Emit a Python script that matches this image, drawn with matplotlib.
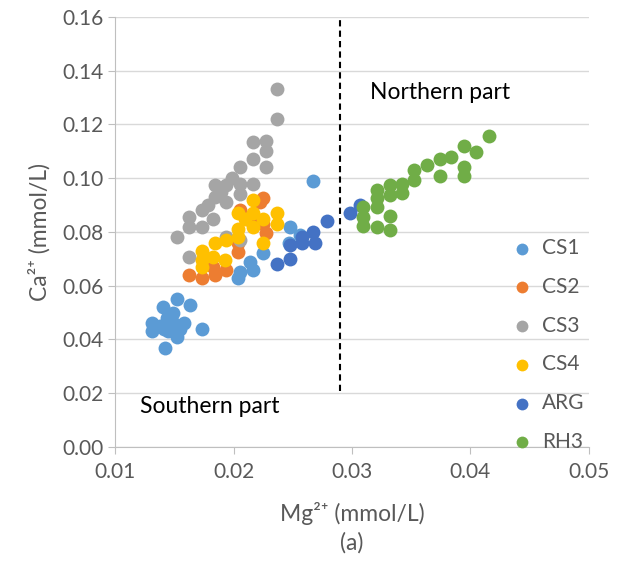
import matplotlib.pyplot as plt

# Excel office palette
colors = {"CS1": "#5B9BD5", "CS2": "#ED7D31", "CS3": "#A5A5A5",
          "CS4": "#FFC000", "ARG": "#4472C4", "RH3": "#70AD47"}

cs1_x = [0.0142, 0.0152, 0.0163, 0.0140, 0.0173, 0.0131, 0.0131, 0.0155, 0.0152,
         0.0144, 0.0149, 0.0138, 0.0145, 0.0158, 0.0141, 0.0148,
         0.0204, 0.0205, 0.0214, 0.0216, 0.0225, 0.0248, 0.0267, 0.0247, 0.0256]
cs1_y = [0.037, 0.055, 0.053, 0.052, 0.044, 0.046, 0.043, 0.044, 0.041,
         0.048, 0.050, 0.045, 0.043, 0.046, 0.044, 0.047,
         0.063, 0.065, 0.069, 0.066, 0.072, 0.082, 0.099, 0.076, 0.079]

cs2_x = [0.0162, 0.0173, 0.0184, 0.0194, 0.0204, 0.0204, 0.0225, 0.0227, 0.0225,
         0.0205, 0.0183, 0.0215, 0.0222]
cs2_y = [0.064, 0.063, 0.064, 0.066, 0.0726, 0.076, 0.0927, 0.0797, 0.083,
         0.088, 0.067, 0.084, 0.091]

cs3_x = [0.0237, 0.0237, 0.0216, 0.0227, 0.0227, 0.0227, 0.0216, 0.0205, 0.0216,
         0.0205, 0.0194, 0.0184, 0.0184, 0.0173, 0.0162, 0.0162, 0.0152, 0.0162,
         0.0173, 0.0183, 0.0194, 0.0205, 0.0194, 0.0205, 0.0178, 0.0189, 0.0199]
cs3_y = [0.133, 0.122, 0.1135, 0.114, 0.110, 0.104, 0.107, 0.104, 0.098,
         0.098, 0.0975, 0.0975, 0.093, 0.088, 0.0856, 0.082, 0.078, 0.0707,
         0.082, 0.085, 0.091, 0.094, 0.078, 0.077, 0.090, 0.095, 0.100]

cs4_x = [0.0216, 0.0204, 0.0216, 0.0225, 0.0237, 0.0237, 0.0225, 0.0216, 0.0204,
         0.0204, 0.0194, 0.0184, 0.0173, 0.0173, 0.0183, 0.0193, 0.0173, 0.0210]
cs4_y = [0.092, 0.087, 0.087, 0.085, 0.087, 0.083, 0.076, 0.082, 0.081,
         0.078, 0.077, 0.076, 0.073, 0.0696, 0.0707, 0.0696, 0.067, 0.085]

arg_x = [0.0237, 0.0248, 0.0248, 0.0258, 0.0258, 0.0267, 0.0269, 0.0279, 0.0298, 0.0307]
arg_y = [0.068, 0.070, 0.075, 0.076, 0.078, 0.080, 0.076, 0.084, 0.087, 0.090]

rh3_x = [0.0416, 0.0395, 0.0405, 0.0384, 0.0374, 0.0395, 0.0395, 0.0363, 0.0374,
         0.0352, 0.0352, 0.0342, 0.0332, 0.0321, 0.0332, 0.0342, 0.0321, 0.0309,
         0.0321, 0.0309, 0.0309, 0.0321, 0.0332, 0.0332]
rh3_y = [0.1157, 0.112, 0.1098, 0.108, 0.107, 0.104, 0.101, 0.105, 0.101,
         0.103, 0.0994, 0.098, 0.0975, 0.0956, 0.0938, 0.0945, 0.0927, 0.0893,
         0.0893, 0.0856, 0.0822, 0.082, 0.086, 0.0807]

series = [("CS1", cs1_x, cs1_y), ("CS2", cs2_x, cs2_y), ("CS3", cs3_x, cs3_y),
          ("CS4", cs4_x, cs4_y), ("ARG", arg_x, arg_y), ("RH3", rh3_x, rh3_y)]

plt.rcParams['font.family'] = ['Lato', 'DejaVu Sans']

fig = plt.figure(figsize=(6.4, 5.63), dpi=100)
ax = fig.add_axes([0.180, 0.206, 0.740, 0.764])

for name, xs, ys in series:
    ax.scatter(xs, ys, s=100, color=colors[name], label=name, linewidths=0, zorder=3)

# boundary between the two parts
ax.plot([0.029, 0.029], [0.021, 0.16], color="black", linestyle=(0, (3, 2)), lw=1.5, zorder=4)
ax.text(0.0315, 0.132, "Northern part", fontsize=16.5, color="black", va="center")
ax.text(0.0121, 0.0149, "Southern part", fontsize=16.5, color="black", va="center")

ax.set_xlim(0.01, 0.05)
ax.set_ylim(0, 0.16)
ax.set_xticks([0.01, 0.02, 0.03, 0.04, 0.05])
ax.set_yticks([0.00, 0.02, 0.04, 0.06, 0.08, 0.10, 0.12, 0.14, 0.16])
ax.set_xticklabels(["0.01", "0.02", "0.03", "0.04", "0.05"])
ax.set_yticklabels(["%.2f" % v for v in ax.get_yticks()])
ax.tick_params(colors="#BFBFBF", labelcolor="#595959", labelsize=15, length=5)
ax.tick_params(axis="x", pad=6)
ax.grid(axis="y", color="#D9D9D9", lw=1)
ax.set_axisbelow(True)
for side in ["top", "right"]:
    ax.spines[side].set_visible(False)
for side in ["left", "bottom"]:
    ax.spines[side].set_color("#BFBFBF")

ax.set_xlabel("Mg²⁺ (mmol/L)", fontsize=16.5, color="#595959", labelpad=1)
ax.xaxis.set_label_coords(0.5, -(513 - 447) / 430, transform=ax.transAxes)
ax.xaxis.label.set_va("center")
fig.text(0.5 * (0.180 + 0.920), 1 - 543 / 563, "(a)", fontsize=16.5, color="#595959",
         ha="center", va="center")
ax.set_ylabel("Ca²⁺ (mmol/L)", fontsize=16.5, color="#595959", labelpad=8)

ax.legend(loc="upper left", bbox_to_anchor=(0.800, 1 - 238 / 563), bbox_transform=fig.transFigure,
          frameon=False, fontsize=15, labelcolor="#595959", handletextpad=0.45,
          handlelength=1.0, labelspacing=0.9, borderaxespad=0, borderpad=0,
          markerscale=0.85)

fig.savefig("out.png", dpi=100)
